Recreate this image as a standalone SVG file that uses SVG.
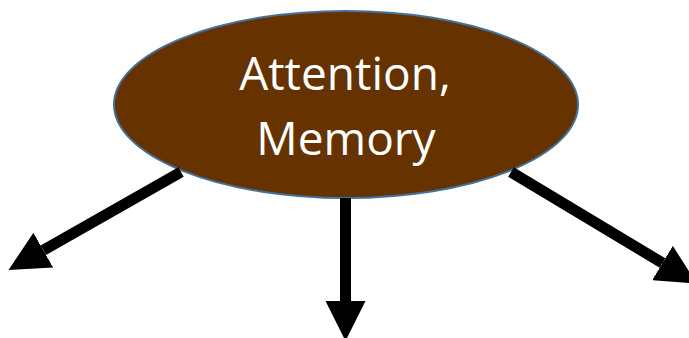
<svg xmlns="http://www.w3.org/2000/svg" width="689" height="338" viewBox="0 0 689 338">
  <style>
    .node { fill: #663300; stroke: #41719C; stroke-width: 2; }
    .label { font-family: "Open Sans", "Liberation Sans", sans-serif; font-size: 46px; fill: #ffffff; text-anchor: middle; }
    .conn { stroke: #000000; stroke-width: 11; fill: none; }
  </style>
  <defs>
    <marker id="head" markerUnits="userSpaceOnUse" markerWidth="40" markerHeight="40" viewBox="0 0 36 36" refX="0" refY="18" orient="auto">
      <path d="M0,0 L36,18 L0,36 z" fill="#000000"/>
    </marker>
  </defs>
  <g id="node-attention">
    <ellipse class="node" cx="346" cy="104.5" rx="232" ry="93.5"/>
    <text class="label" x="345" y="90">Attention,</text>
    <text class="label" x="346" y="155">Memory</text>
  </g>
  <g id="connectors">
    <line class="conn" x1="181" y1="172" x2="43.3" y2="250.2" marker-end="url(#head)"/>
    <line class="conn" x1="345.5" y1="198" x2="345.5" y2="301" marker-end="url(#head)"/>
    <line class="conn" x1="511" y1="172" x2="662.5" y2="263" marker-end="url(#head)"/>
  </g>
</svg>
